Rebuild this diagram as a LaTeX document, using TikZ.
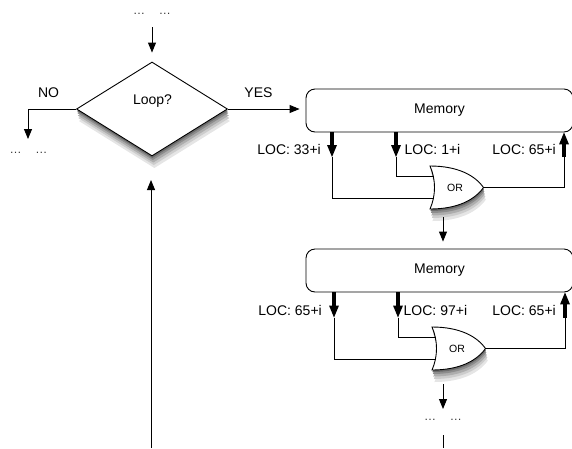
\documentclass[tikz,border=0pt]{standalone}
\usepackage{fontspec}
\setmainfont{Liberation Sans}
\usetikzlibrary{shapes.geometric,arrows.meta}
\definecolor{shA}{gray}{0.9}
\definecolor{shB}{gray}{0.8}
\definecolor{shC}{gray}{0.68}
\definecolor{shD}{gray}{0.55}
\definecolor{shE}{gray}{0.42}
\tikzset{
  lbl/.style={font=\fontsize{14}{16}\selectfont, inner sep=0pt},
  dots/.style={font=\fontsize{12}{14}\selectfont, inner sep=0pt, anchor=base, text=black!80},
  wire/.style={line width=0.9pt},
  arrowline/.style={line width=0.9pt, -{Triangle[length=10pt 0,width=8pt 0]}},
  fatarrow/.style={line width=4pt, -{Triangle[length=12pt 0,width=10pt 0,line width=0pt]}},
  membox/.style={draw, line width=0.9pt, rounded corners=9pt, minimum width=267pt,
    minimum height=43pt, inner sep=0pt, font=\fontsize{14}{16}\selectfont},
  decision/.style={diamond, draw, fill=white, line width=0.9pt, minimum width=151pt,
    minimum height=94pt, inner sep=0pt},
  gateshape/.style={draw, fill=white, line width=0.9pt},
  gatetext/.style={font=\fontsize{10.5}{12}\selectfont, inner sep=0pt},
  orgate/.pic={
    \foreach \dd/\col in {12/shA,9/shB,6.5/shC,4/shD,2/shE} {
      \fill[\col] (0.2*\dd,-21.5+\dd) .. controls (28+0.2*\dd,-21.5+\dd) and (45+0.2*\dd,-12+\dd) .. (53.5+0.2*\dd,\dd)
        .. controls (45+0.2*\dd,12+\dd) and (28+0.2*\dd,21.5+\dd) .. (0.2*\dd,21.5+\dd)
        .. controls (6+0.2*\dd,8+\dd) and (6+0.2*\dd,-8+\dd) .. cycle;
    }
    \path[gateshape] (0,-21.5) .. controls (28,-21.5) and (45,-12) .. (53.5,0)
      .. controls (45,12) and (28,21.5) .. (0,21.5)
      .. controls (6,8) and (6,-8) .. cycle;
    \node[gatetext] (-c) at (25,0) {OR};
    \coordinate (-out) at (53.5,0);
    \coordinate (-in1) at (3.4,-11);
    \coordinate (-in2) at (3.4,11);
  }
}
\begin{document}
\begin{tikzpicture}[x=1pt,y=-1pt]
\useasboundingbox (0,0) rectangle (572,448);

% decision with soft shadow
\fill[shA] (154.4,74) -- (229.9,121) -- (154.4,168) -- (78.9,121) -- cycle;
\fill[shB] (153.8,71) -- (229.3,118) -- (153.8,165) -- (78.3,118) -- cycle;
\fill[shC] (153.3,68.5) -- (228.8,115.5) -- (153.3,162.5) -- (77.8,115.5) -- cycle;
\fill[shD] (152.8,66) -- (228.3,113) -- (152.8,160) -- (77.3,113) -- cycle;
\fill[shE] (152.4,64) -- (227.9,111) -- (152.4,158) -- (76.9,111) -- cycle;
\node[decision] (d) at (152,109) {};
\node[lbl, anchor=base] (loop) at (152.5,104.5) {Loop?};
\node[lbl, anchor=base] (no) at (48.5,97) {NO};
\node[lbl, anchor=base] (yes) at (258.5,97) {YES};
\node[dots] (dtop) at (152,14) {…\hspace{14pt}…};
\node[dots] (dleft) at (28.5,153) {…\hspace{14pt}…};

\coordinate (topstart) at (152,27);
\draw[arrowline, shorten >=9pt] (topstart) -- (d.north);
\coordinate (noend) at (28,139);
\draw[arrowline] (d.west) -| (noend);
\coordinate (lb) at (151,448);
\coordinate (lt) at (151,180);
\draw[arrowline] (lb) -- (lt);

% memory boxes (cut at the right border)
\begin{scope}
\clip (0,0) rectangle (572,448);
\node[membox] (m1) at (439.5,110.5) {Memory};
\node[membox] (m2) at (439.5,270.5) {Memory};
\end{scope}
\draw[arrowline, shorten >=6pt] (d.east) -- (d.east -| m1.west);

% row 1
\coordinate (t11) at (332,157);
\coordinate (t12) at (396,157);
\coordinate (t13) at (564,157);
\draw[fatarrow] (t11 |- m1.south) -- (t11);
\draw[fatarrow] (t12 |- m1.south) -- (t12);
\draw[fatarrow] (t13) -- (t13 |- m1.south);

\node[lbl, anchor=base east] (l11) at (321,154) {LOC: 33+i};
\node[lbl, anchor=base west] (l12) at (404.5,154) {LOC: 1+i};
\node[lbl, anchor=base east] (l13) at (556,154) {LOC: 65+i};

\pic (g1) at (430,187.5) {orgate};
\draw[wire] (t12) |- (g1-in1);
\draw[wire] (t11) |- (g1-in2);
\draw[wire] (g1-out) -| (t13);

% row 2
\coordinate (a1) at (443,217);
\draw[arrowline, shorten >=7pt] (a1) -- (a1 |- m2.north);

\coordinate (t21) at (334,317.5);
\coordinate (t22) at (398,317.5);
\coordinate (t23) at (565,317.5);
\draw[fatarrow] (t21 |- m2.south) -- (t21);
\draw[fatarrow] (t22 |- m2.south) -- (t22);
\draw[fatarrow] (t23) -- (t23 |- m2.south);

\node[lbl, anchor=base east] (l21) at (322,315) {LOC: 65+i};
\node[lbl, anchor=base west] (l22) at (403.5,315) {LOC: 97+i};
\node[lbl, anchor=base east] (l23) at (556,315) {LOC: 65+i};

\pic (g2) at (432,348.5) {orgate};
\draw[wire] (t22) |- (g2-in1);
\draw[wire] (t21) |- (g2-in2);
\draw[wire] (g2-out) -| (t23);

% bottom
\coordinate (a2) at (443,384);
\coordinate (a2e) at (443,409);
\draw[arrowline] (a2) -- (a2e);
\node[dots] (dbot) at (443,420) {…\hspace{14pt}…};
\coordinate (b1) at (443,435);
\coordinate (b2) at (443,448);
\draw[wire] (b1) -- (b2);
\end{tikzpicture}
\end{document}
